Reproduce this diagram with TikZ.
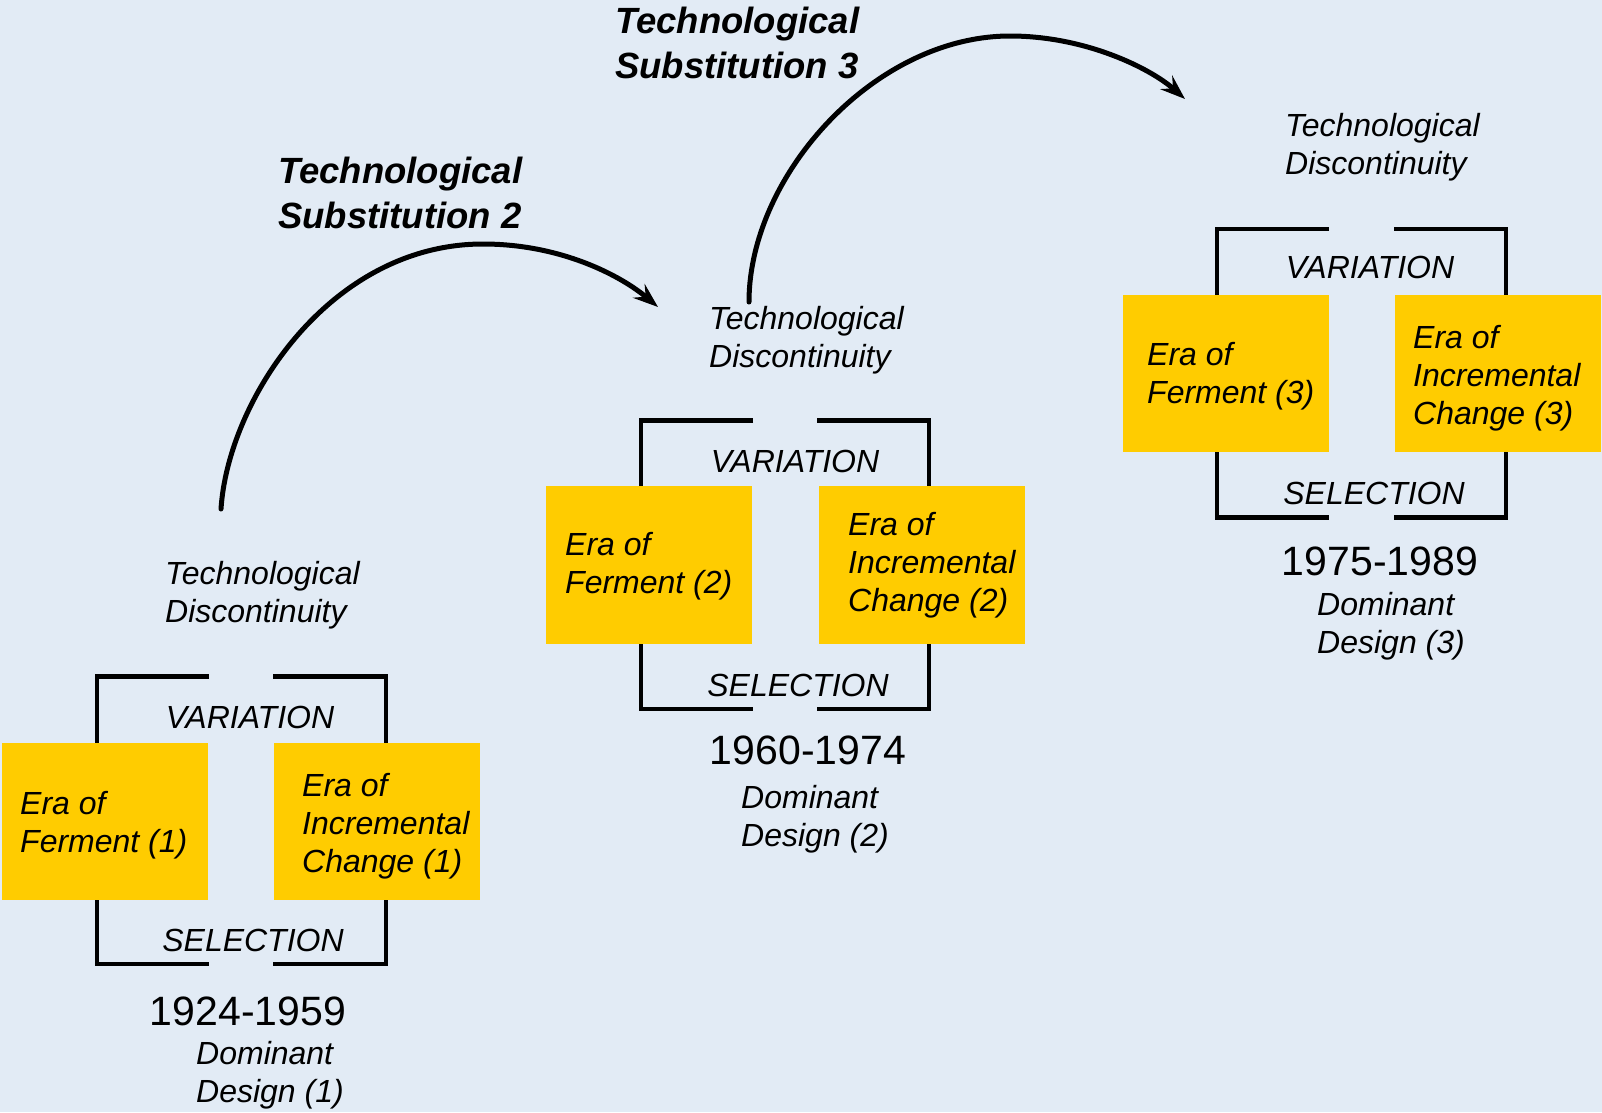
\documentclass[tikz,border=0pt]{standalone}
\usepackage{fontspec}
\setmainfont{Liberation Sans}
\usetikzlibrary{arrows.meta}
\definecolor{bgblue}{HTML}{E2EBF5}
\definecolor{erayellow}{HTML}{FFCC00}

\begin{document}
\begin{tikzpicture}[x=1pt,y=-1pt,
  % multi-line texts are placed by the baseline of their last line
  txt/.style={inner sep=0pt, font=\fontsize{32}{38}\selectfont\itshape, align=left, anchor=base west},
  ctxt/.style={inner sep=0pt, font=\fontsize{32}{38}\selectfont\itshape, anchor=base},
  yeartxt/.style={inner sep=0pt, font=\fontsize{41}{48}\selectfont, anchor=base},
  titletxt/.style={inner sep=0pt, font=\fontsize{36.5}{45}\selectfont\bfseries\itshape, align=left, anchor=base west},
  erabox/.style={fill=erayellow, inner sep=0pt, minimum width=206pt, minimum height=157.5pt},
  bracket/.style={line width=4.8pt, line join=miter},
  subst/.style={line width=5pt, line cap=round, -{Stealth[length=25pt,width=18pt,inset=9pt]}},
]
% page background
\fill[bgblue] (0,0) rectangle (1602,1112);
\useasboundingbox (0,0) rectangle (1602,1112);

% ---------- cycle 1 ----------
\draw[bracket] (209,676.8) -- (97,676.8) -- (97,964) -- (209,964);
\draw[bracket] (273,676.8) -- (386,676.8) -- (386,964) -- (273,964);
\node[erabox] (fer1) at (105,821.3) {};
\node[erabox] (inc1) at (377,821.3) {};
\node[txt] (fer1t) at (20,852.5) {Era of\\Ferment (1)};
\node[txt] (inc1t) at (302,872.5) {Era of\\Incremental\\Change (1)};
\node[txt] (disc1) at (165,622.5) {Technological\\Discontinuity};
\node[ctxt] (var1) at (250,728.5) {VARIATION};
\node[ctxt] (sel1) at (253,951.5) {SELECTION};
\node[yeartxt] (year1) at (248,1025) {1924-1959};
\node[txt] (dom1) at (196,1102.5) {Dominant\\Design (1)};

% ---------- cycle 2 ----------
\draw[bracket] (753,420.6) -- (641,420.6) -- (641,709) -- (753,709);
\draw[bracket] (817,420.6) -- (929,420.6) -- (929,709) -- (817,709);
\node[erabox] (fer2) at (649,564.9) {};
\node[erabox] (inc2) at (922,564.9) {};
\node[txt] (fer2t) at (565,593) {Era of\\Ferment (2)};
\node[txt] (inc2t) at (848,611.5) {Era of\\Incremental\\Change (2)};
\node[txt] (disc2) at (709,367.5) {Technological\\Discontinuity};
\node[ctxt] (var2) at (795,472.5) {VARIATION};
\node[ctxt] (sel2) at (798,696.5) {SELECTION};
\node[yeartxt] (year2) at (808,764.5) {1960-1974};
\node[txt] (dom2) at (741,846.5) {Dominant\\Design (2)};

% ---------- cycle 3 ----------
\draw[bracket] (1329,229) -- (1217,229) -- (1217,517.7) -- (1329,517.7);
\draw[bracket] (1394,229) -- (1506,229) -- (1506,517.7) -- (1394,517.7);
\node[erabox] (fer3) at (1226,373.3) {};
\node[erabox] (inc3) at (1498,373.3) {};
\node[txt] (fer3t) at (1147,403.5) {Era of\\Ferment (3)};
\node[txt] (inc3t) at (1413,424.5) {Era of\\Incremental\\Change (3)};
\node[txt] (disc3) at (1285,174.5) {Technological\\Discontinuity};
\node[ctxt] (var3) at (1370,278.5) {VARIATION};
\node[ctxt] (sel3) at (1374,504) {SELECTION};
\node[yeartxt] (year3) at (1380,575.5) {1975-1989};
\node[txt] (dom3) at (1317,653.5) {Dominant\\Design (3)};

% ---------- substitutions ----------
\node[titletxt] (subst2) at (278,228) {Technological\\Substitution 2};
\node[titletxt] (subst3) at (615,78) {Technological\\Substitution 3};

\coordinate (from2) at (221,509);
\coordinate (top2) at (483,244);
\coordinate (to2) at (658,307);
\draw[subst] (from2) .. controls (228,400) and (330,244) .. (top2)
  .. controls (560,244) and (620,275) .. (to2);

\coordinate (from3) at (749,302);
\coordinate (top3) at (1010,36);
\coordinate (to3) at (1185,99);
\draw[subst] (from3) .. controls (749,175) and (875,36) .. (top3)
  .. controls (1085,36) and (1150,68) .. (to3);
\end{tikzpicture}
\end{document}
